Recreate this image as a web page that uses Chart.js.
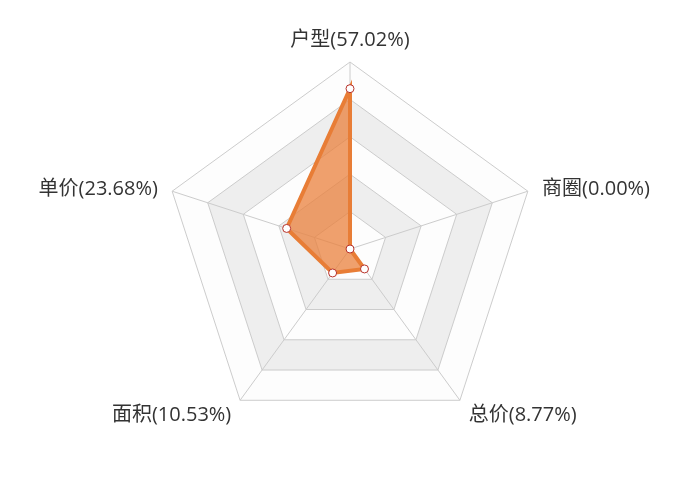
<!DOCTYPE html>
<html>
<head>
<meta charset="utf-8">
<script src="https://cdn.jsdelivr.net/npm/chart.js@4.4.0/dist/chart.umd.min.js"></script>
<style>
  html, body { margin: 0; padding: 0; background: #fff; }
  #wrap { width: 700px; height: 500px; }
</style>
</head>
<body>
<div id="wrap"><canvas id="myChart"></canvas></div>
<script>
// radar data, clockwise from the top
const categories = ['户型', '商圈', '总价', '面积', '单价'];
const shares = [57.02, 0.00, 8.77, 10.53, 23.68];
const scaleMax = 66.5;
const ringCount = 5;

const labels = categories.map((c, i) => c + '(' + shares[i].toFixed(2) + '%)');

// fills the alternating ring bands behind the grid lines
const ringBands = {
  id: 'ringBands',
  beforeDraw(chart) {
    const scale = chart.scales.r;
    const ctx = chart.ctx;
    const n = chart.data.labels.length;
    const colors = ['rgba(250,250,250,0.3)', 'rgba(200,200,200,0.3)'];
    ctx.save();
    for (let k = ringCount; k >= 1; k--) {
      const d = scale.getDistanceFromCenterForValue(scaleMax * k / ringCount);
      ctx.beginPath();
      for (let i = 0; i < n; i++) {
        const p = scale.getPointPosition(i, d);
        if (i === 0) ctx.moveTo(p.x, p.y); else ctx.lineTo(p.x, p.y);
      }
      ctx.closePath();
      ctx.fillStyle = '#fff';
      ctx.fill();
      ctx.fillStyle = colors[(k - 1) % 2];
      ctx.fill();
    }
    ctx.restore();
  }
};

// axis names: placed just outside each spoke, centred vertically on the sides
const axisNames = {
  id: 'axisNames',
  afterDraw(chart) {
    const scale = chart.scales.r;
    const ctx = chart.ctx;
    ctx.save();
    ctx.font = '20px "Open Sans", "Noto Sans CJK SC", sans-serif';
    ctx.fillStyle = '#333';
    chart.data.labels.forEach((text, i) => {
      const p = scale.getPointPosition(i, scale.drawingArea + 15);
      const a = scale.getIndexAngle(i) - Math.PI / 2;
      const c = Math.cos(a), s = Math.sin(a);
      ctx.textAlign = Math.abs(c) < 0.01 ? 'center' : (c > 0 ? 'left' : 'right');
      ctx.textBaseline = Math.abs(c) < 0.01 ? (s < 0 ? 'bottom' : 'top') : 'middle';
      ctx.fillText(text, p.x, p.y + 3);
    });
    ctx.restore();
  }
};

function makeChart() {
  let myChart = document.getElementById('myChart').getContext('2d');
  new Chart(myChart, {
    type: 'radar',
    data: {
      labels: labels,
      datasets: [{
        data: shares,
        borderColor: '#e87d36',
        borderWidth: 4,
        backgroundColor: 'rgba(234,128,60,0.75)',
        pointBackgroundColor: '#fff',
        pointBorderColor: '#b8322a',
        pointBorderWidth: 1,
        pointRadius: 4,
        tension: 0,
        fill: true
      }]
    },
    options: {
      responsive: true,
      maintainAspectRatio: false,
      animation: false,
      layout: { padding: { top: 62, bottom: 64, left: 0, right: 0 } },
      plugins: {
        legend: { display: false },
        tooltip: { enabled: false }
      },
      scales: {
        r: {
          min: 0,
          max: scaleMax,
          ticks: { display: false, stepSize: scaleMax / ringCount },
          grid: { color: '#cccccc', lineWidth: 1 },
          angleLines: { color: '#cccccc', lineWidth: 1 },
          pointLabels: { display: false }
        }
      }
    },
    plugins: [ringBands, axisNames]
  });
}

makeChart();
</script>
</body>
</html>
